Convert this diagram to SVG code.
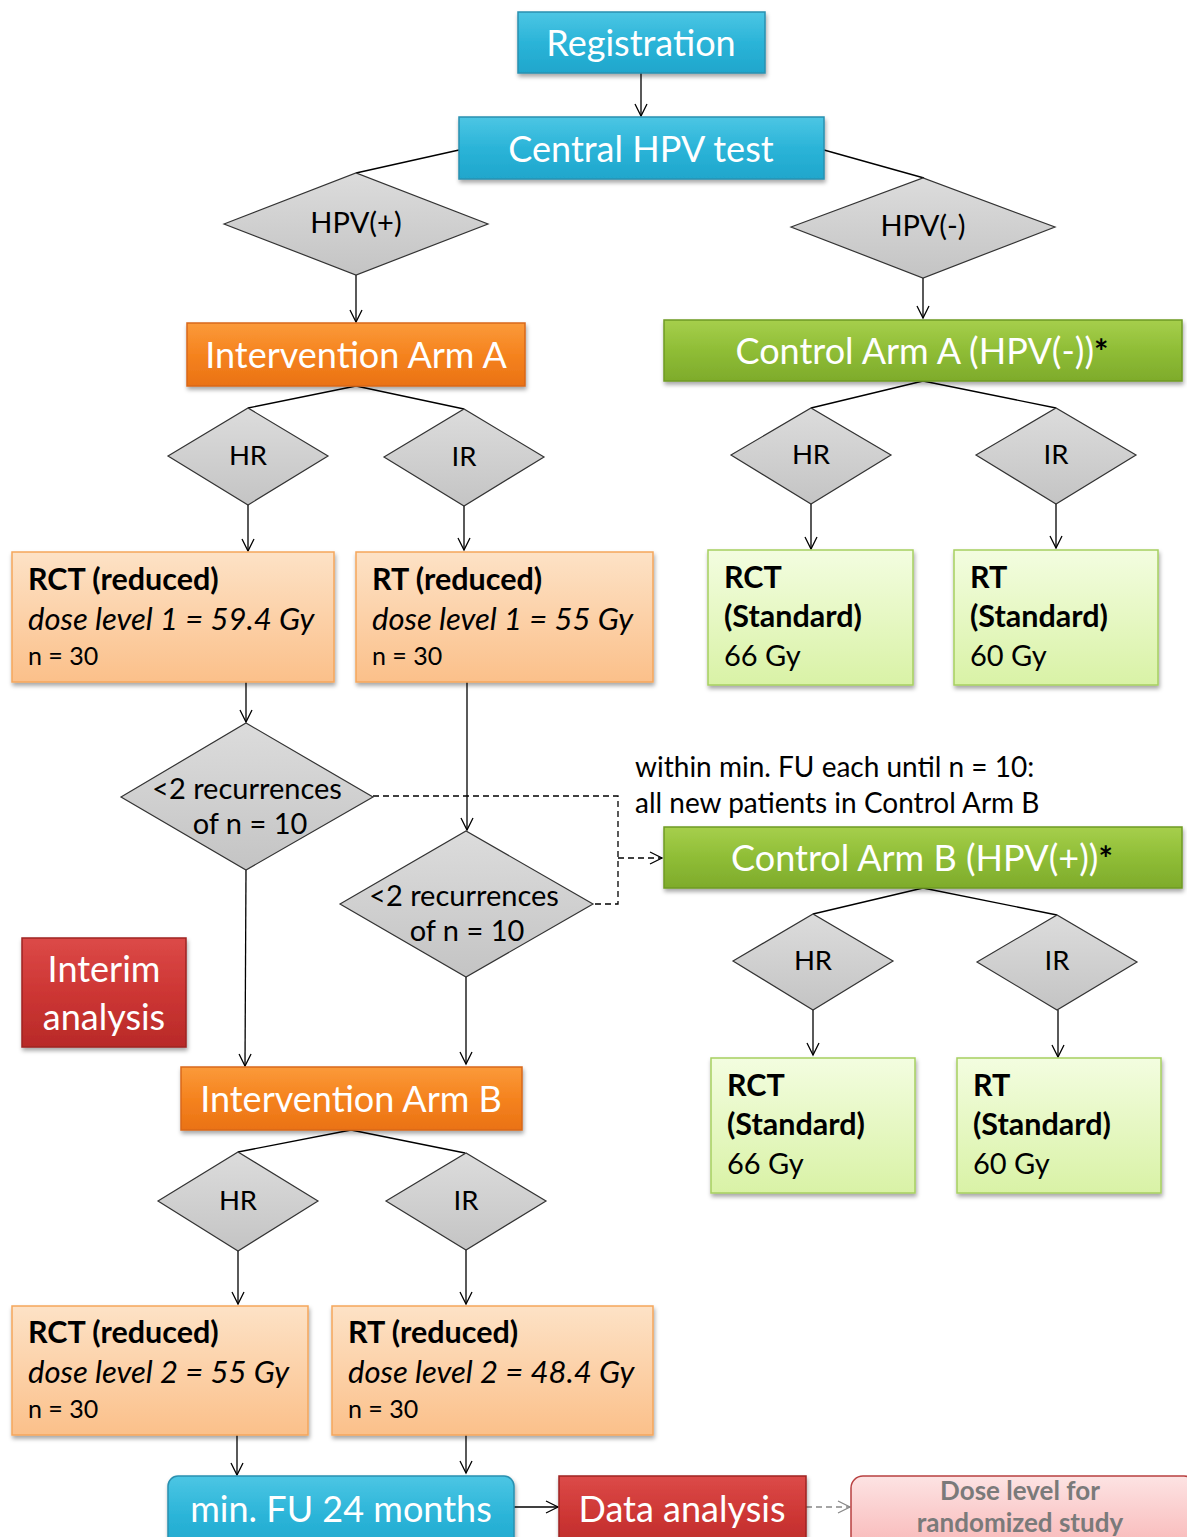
<svg xmlns="http://www.w3.org/2000/svg" width="1187" height="1537" viewBox="0 0 1187 1537">
<defs>
<linearGradient id="gBlue" x1="0" y1="0" x2="0" y2="1"><stop offset="0" stop-color="#4cc6e4"/><stop offset="0.5" stop-color="#2bb4d8"/><stop offset="1" stop-color="#1fa6cc"/></linearGradient>
<linearGradient id="gOrange" x1="0" y1="0" x2="0" y2="1"><stop offset="0" stop-color="#fb9a3a"/><stop offset="0.5" stop-color="#f5831f"/><stop offset="1" stop-color="#ea7214"/></linearGradient>
<linearGradient id="gGreen" x1="0" y1="0" x2="0" y2="1"><stop offset="0" stop-color="#a6cf4c"/><stop offset="0.5" stop-color="#8fbd36"/><stop offset="1" stop-color="#7eab2b"/></linearGradient>
<linearGradient id="gRed" x1="0" y1="0" x2="0" y2="1"><stop offset="0" stop-color="#dc4a48"/><stop offset="0.5" stop-color="#cd3634"/><stop offset="1" stop-color="#b82a28"/></linearGradient>
<linearGradient id="gLOrange" x1="0" y1="0" x2="0" y2="1"><stop offset="0" stop-color="#fde2c6"/><stop offset="1" stop-color="#fbc08a"/></linearGradient>
<linearGradient id="gLGreen" x1="0" y1="0" x2="0" y2="1"><stop offset="0" stop-color="#f3fde0"/><stop offset="1" stop-color="#d9f2a6"/></linearGradient>
<linearGradient id="gPink" x1="0" y1="0" x2="0" y2="1"><stop offset="0" stop-color="#fde3e3"/><stop offset="1" stop-color="#f8b4b4"/></linearGradient>
<linearGradient id="gGray" x1="0" y1="0" x2="0" y2="1"><stop offset="0" stop-color="#dcdcdc"/><stop offset="1" stop-color="#c4c4c4"/></linearGradient>
<filter id="sh" x="-10%" y="-10%" width="130%" height="140%"><feDropShadow dx="1" dy="3" stdDeviation="2" flood-color="#000" flood-opacity="0.35"/></filter>
<marker id="arr" markerUnits="userSpaceOnUse" markerWidth="16" markerHeight="16" refX="13" refY="7" orient="auto"><path d="M1,1 L13,7 L1,13" fill="none" stroke="#000" stroke-width="1.3"/></marker>
<marker id="arrG" markerUnits="userSpaceOnUse" markerWidth="16" markerHeight="16" refX="13" refY="7" orient="auto"><path d="M1,1 L13,7 L1,13" fill="none" stroke="#888" stroke-width="1.3"/></marker>
</defs>
<style>
text{font-family:Lato,"Open Sans","Liberation Sans",sans-serif}
.blue{fill:url(#gBlue);stroke:#2a90b0;stroke-width:1.5;filter:url(#sh)}
.orange{fill:url(#gOrange);stroke:#d9681a;stroke-width:1.5;filter:url(#sh)}
.green{fill:url(#gGreen);stroke:#6f9a24;stroke-width:1.5;filter:url(#sh)}
.red{fill:url(#gRed);stroke:#9e2422;stroke-width:1.5;filter:url(#sh)}
.lorange{fill:url(#gLOrange);stroke:#f5a65b;stroke-width:1.5;filter:url(#sh)}
.lgreen{fill:url(#gLGreen);stroke:#a6cf60;stroke-width:1.5;filter:url(#sh)}
.pink{fill:url(#gPink);stroke:#b84040;stroke-width:1.5}
.dia{fill:url(#gGray);stroke:#333;stroke-width:1.2}
.big{fill:#fff;font-size:36px;text-anchor:middle}
.dt{fill:#000;font-size:29px;text-anchor:middle}
.hr{font-size:27.5px}
.bt{fill:#000;font-size:29px}
.b{font-weight:bold;font-size:30.5px}
.i{font-style:italic;font-size:31px}
.n{font-size:25px}
.star{fill:#000;font-weight:bold;font-size:34px}
.conn{stroke:#000;stroke-width:1.3;fill:none}
.dash{stroke-dasharray:6 4}
</style>
<g id="connectors">
<line class="conn" x1="641" y1="73" x2="641" y2="116" marker-end="url(#arr)"/>
<line class="conn" x1="459" y1="150" x2="356" y2="173"/>
<line class="conn" x1="824" y1="150" x2="924" y2="178"/>
<line class="conn" x1="356" y1="275" x2="356" y2="322" marker-end="url(#arr)"/>
<line class="conn" x1="923" y1="278" x2="923" y2="318" marker-end="url(#arr)"/>
<line class="conn" x1="356" y1="386" x2="248" y2="408"/>
<line class="conn" x1="356" y1="386" x2="464" y2="409"/>
<line class="conn" x1="248" y1="505" x2="248" y2="551" marker-end="url(#arr)"/>
<line class="conn" x1="464" y1="506" x2="464" y2="550" marker-end="url(#arr)"/>
<line class="conn" x1="923" y1="381" x2="811" y2="408"/>
<line class="conn" x1="923" y1="381" x2="1056" y2="408"/>
<line class="conn" x1="811" y1="504" x2="811" y2="549" marker-end="url(#arr)"/>
<line class="conn" x1="1056" y1="504" x2="1056" y2="548" marker-end="url(#arr)"/>
<line class="conn" x1="246" y1="682" x2="246" y2="722" marker-end="url(#arr)"/>
<line class="conn" x1="467" y1="682" x2="467" y2="830" marker-end="url(#arr)"/>
<polyline class="conn dash" points="373,796 618,796 618,904 593,904"/>
<line class="conn dash" x1="618" y1="858" x2="662" y2="858" marker-end="url(#arr)"/>
<line class="conn" x1="923" y1="888" x2="813" y2="914"/>
<line class="conn" x1="923" y1="888" x2="1057" y2="915"/>
<line class="conn" x1="813" y1="1010" x2="813" y2="1055" marker-end="url(#arr)"/>
<line class="conn" x1="1058" y1="1010" x2="1058" y2="1057" marker-end="url(#arr)"/>
<line class="conn" x1="246" y1="870" x2="245" y2="1066" marker-end="url(#arr)"/>
<line class="conn" x1="466" y1="977" x2="466" y2="1064" marker-end="url(#arr)"/>
<line class="conn" x1="351" y1="1130" x2="238" y2="1152"/>
<line class="conn" x1="351" y1="1130" x2="465" y2="1153"/>
<line class="conn" x1="238" y1="1251" x2="238" y2="1304" marker-end="url(#arr)"/>
<line class="conn" x1="466" y1="1250" x2="466" y2="1304" marker-end="url(#arr)"/>
<line class="conn" x1="237" y1="1435" x2="237" y2="1475" marker-end="url(#arr)"/>
<line class="conn" x1="466" y1="1435" x2="466" y2="1473" marker-end="url(#arr)"/>
<line class="conn" x1="514" y1="1507" x2="558" y2="1507" marker-end="url(#arr)"/>
<line class="conn dash" x1="806" y1="1507" x2="850" y2="1507" style="stroke:#888" marker-end="url(#arrG)"/>
</g>
<g id="registration"><rect class="blue" x="518" y="12" width="247" height="61"/><text class="big" x="641" y="56">Registration</text></g>
<g id="central-hpv"><rect class="blue" x="459" y="117" width="365" height="62"/><text class="big" x="641" y="162">Central HPV test</text></g>
<g id="hpv-pos"><polygon class="dia" points="224,224 356,173 488,224 356,275"/><text class="dt" x="356" y="233">HPV(+)</text></g>
<g id="hpv-neg"><polygon class="dia" points="791,227 923,178 1055,227 923,278"/><text class="dt" x="923" y="236">HPV(-)</text></g>
<g id="int-arm-a"><rect class="orange" x="187" y="323" width="338" height="63"/><text class="big" x="356" y="368">Intervention Arm A</text></g>
<g id="ctrl-arm-a"><rect class="green" x="664" y="320" width="518" height="61"/><text class="big" x="922" y="364">Control Arm A (HPV(-))<tspan class="star">*</tspan></text></g>
<g id="ia-hr"><polygon class="dia" points="168,456 248,408 328,456 248,505"/><text class="dt hr" x="248" y="465">HR</text></g>
<g id="ia-ir"><polygon class="dia" points="384,457 464,409 544,457 464,506"/><text class="dt hr" x="464" y="466">IR</text></g>
<g id="ca-hr"><polygon class="dia" points="731,455 811,408 891,455 811,504"/><text class="dt hr" x="811" y="464">HR</text></g>
<g id="ca-ir"><polygon class="dia" points="976,455 1056,408 1136,455 1056,504"/><text class="dt hr" x="1056" y="464">IR</text></g>
<g id="rct-red-1"><rect class="lorange" x="12" y="552" width="322" height="130"/><text class="bt" x="28" y="590"><tspan class="b">RCT (reduced)</tspan><tspan class="i" x="28" y="630">dose level 1 = 59.4 Gy</tspan><tspan class="n" x="28" y="665">n = 30</tspan></text></g>
<g id="rt-red-1"><rect class="lorange" x="356" y="552" width="297" height="130"/><text class="bt" x="372" y="590"><tspan class="b">RT (reduced)</tspan><tspan class="i" x="372" y="630">dose level 1 = 55 Gy</tspan><tspan class="n" x="372" y="665">n = 30</tspan></text></g>
<g id="rct-std-a"><rect class="lgreen" x="708" y="550" width="205" height="135"/><text class="bt" x="724" y="588"><tspan class="b">RCT</tspan><tspan class="b" x="724" y="627">(Standard)</tspan><tspan x="724" y="666">66 Gy</tspan></text></g>
<g id="rt-std-a"><rect class="lgreen" x="954" y="550" width="204" height="135"/><text class="bt" x="970" y="588"><tspan class="b">RT</tspan><tspan class="b" x="970" y="627">(Standard)</tspan><tspan x="970" y="666">60 Gy</tspan></text></g>
<g id="rec-1"><polygon class="dia" points="121,797 246,723 373,797 246,870"/><text class="dt" x="247" y="799">&lt;2 recurrences<tspan x="250" y="834">of n = 10</tspan></text></g>
<g id="rec-2"><polygon class="dia" points="340,904 466,831 593,904 466,977"/><text class="dt" x="464" y="906">&lt;2 recurrences<tspan x="467" y="941">of n = 10</tspan></text></g>
<g id="note"><text x="635" y="777" font-size="28" fill="#000">within min. FU each until n = 10:<tspan x="635" y="813">all new patients in Control Arm B</tspan></text></g>
<g id="ctrl-arm-b"><rect class="green" x="664" y="827" width="518" height="61"/><text class="big" x="922" y="871">Control Arm B (HPV(+))<tspan class="star">*</tspan></text></g>
<g id="cb-hr"><polygon class="dia" points="733,961 813,914 893,961 813,1010"/><text class="dt hr" x="813" y="970">HR</text></g>
<g id="cb-ir"><polygon class="dia" points="977,962 1057,915 1137,962 1057,1010"/><text class="dt hr" x="1057" y="970">IR</text></g>
<g id="rct-std-b"><rect class="lgreen" x="711" y="1058" width="204" height="135"/><text class="bt" x="727" y="1096"><tspan class="b">RCT</tspan><tspan class="b" x="727" y="1135">(Standard)</tspan><tspan x="727" y="1174">66 Gy</tspan></text></g>
<g id="rt-std-b"><rect class="lgreen" x="957" y="1058" width="204" height="135"/><text class="bt" x="973" y="1096"><tspan class="b">RT</tspan><tspan class="b" x="973" y="1135">(Standard)</tspan><tspan x="973" y="1174">60 Gy</tspan></text></g>
<g id="interim"><rect class="red" x="22" y="938" width="164" height="109"/><text class="big" x="104" y="982">Interim<tspan x="104" y="1030">analysis</tspan></text></g>
<g id="int-arm-b"><rect class="orange" x="181" y="1067" width="341" height="63"/><text class="big" x="351" y="1112">Intervention Arm B</text></g>
<g id="ib-hr"><polygon class="dia" points="158,1201 238,1152 318,1201 238,1251"/><text class="dt hr" x="238" y="1210">HR</text></g>
<g id="ib-ir"><polygon class="dia" points="386,1201 466,1153 546,1201 466,1250"/><text class="dt hr" x="466" y="1210">IR</text></g>
<g id="rct-red-2"><rect class="lorange" x="12" y="1306" width="296" height="129"/><text class="bt" x="28" y="1343"><tspan class="b">RCT (reduced)</tspan><tspan class="i" x="28" y="1383">dose level 2 = 55 Gy</tspan><tspan class="n" x="28" y="1418">n = 30</tspan></text></g>
<g id="rt-red-2"><rect class="lorange" x="332" y="1306" width="321" height="129"/><text class="bt" x="348" y="1343"><tspan class="b">RT (reduced)</tspan><tspan class="i" x="348" y="1383">dose level 2 = 48.4 Gy</tspan><tspan class="n" x="348" y="1418">n = 30</tspan></text></g>
<g id="min-fu"><rect class="blue" x="168" y="1476" width="346" height="80" rx="10"/><text class="big" x="341" y="1522">min. FU 24 months</text></g>
<g id="data-analysis"><rect class="red" x="559" y="1476" width="247" height="80"/><text class="big" x="682" y="1522">Data analysis</text></g>
<g id="dose-level"><rect class="pink" x="851" y="1476" width="345" height="80" rx="12"/><text x="1020" y="1500" font-size="26" font-weight="bold" fill="#7a7a7a" text-anchor="middle">Dose level for<tspan x="1020" y="1532">randomized study</tspan></text></g>
</svg>
